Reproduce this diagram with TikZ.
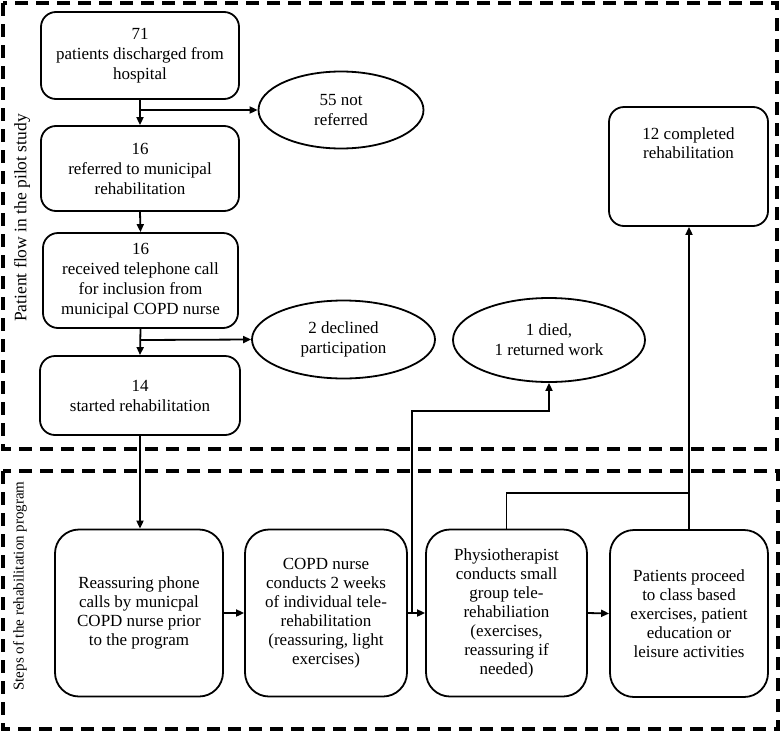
\documentclass[tikz,border=0pt]{standalone}
\usepackage{fontspec}
\setmainfont{Liberation Serif}
\usetikzlibrary{arrows.meta,shapes.geometric}
\begin{document}
\begin{tikzpicture}[x=1pt,y=-1pt,
  rbox/.style={draw,line width=1.8pt,rounded corners=15pt,align=center,font=\fontsize{17}{20}\selectfont,inner sep=2pt},
  bbox/.style={draw,line width=1.8pt,rounded corners=24pt,align=center,font=\fontsize{17}{19}\selectfont,inner sep=2pt,minimum height=167pt},
  ell/.style={draw,ellipse,line width=1.8pt,align=center,font=\fontsize{17}{20}\selectfont,inner sep=0pt},
  frame/.style={line width=3.2pt,dash pattern=on 13pt off 8pt},
  arr/.style={line width=1.8pt,-{Triangle[length=8pt,width=7pt]}},
  ln/.style={line width=1.8pt},
  vlab/.style={rotate=90,font=\fontsize{17.5}{18}\selectfont}]
\useasboundingbox (0,0) rectangle (781,731);
% frames
\draw[frame] (3,3) rectangle (777,449);
\draw[frame] (3,471) rectangle (778,729);
\node[vlab] (lab1) at (22,218) {Patient flow in the pilot study};
\node[vlab,font=\fontsize{15}{18}\selectfont] (lab2) at (20,586) {Steps of the rehabilitation program};
% top boxes
\node[rbox,minimum width=198pt,minimum height=87pt] (b1) at (140,55.5) {71\\patients discharged from\\hospital};
\node[rbox,minimum width=198pt,minimum height=85pt] (b2) at (140,168.5) {16\\referred to municipal\\rehabilitation};
\node[rbox,minimum width=195pt,minimum height=95pt] (b3) at (140.5,280.5) {16\\received telephone call\\for inclusion from\\municipal COPD nurse};
\node[rbox,minimum width=200pt,minimum height=79pt] (b4) at (140,395.5) {14\\started rehabilitation};
% ellipses
\node[ell,minimum width=165pt,minimum height=77pt] (e1) at (341,110) {55 not\\referred};
\node[ell,minimum width=183pt,minimum height=78pt] (e2) at (343.5,339.5) {2 declined\\participation};
\node[ell,minimum width=192pt,minimum height=84pt] (e3) at (549,340) {1 died,\\1 returned work};
% completed
\node[rbox,minimum width=159pt,minimum height=119pt] (done) at (688.5,166.5) {};
\node[anchor=north,align=center,font=\fontsize{17}{19}\selectfont,inner sep=0pt] (donetext) at ([yshift=-21pt]done.north) {12 completed\\rehabilitation};
% bottom boxes
\node[bbox,minimum width=168pt] (bA) at (139,613) {Reassuring phone\\calls by municpal\\COPD nurse prior\\to the program};
\node[bbox,minimum width=162pt] (bB) at (326,613) {COPD nurse\\conducts 2 weeks\\of individual tele-\\rehabilitation\\(reassuring, light\\exercises)};
\node[bbox,minimum width=161pt] (bC) at (506.5,613) {Physiotherapist\\conducts small\\group tele-\\rehabiliation\\(exercises,\\reassuring if\\needed)};
\node[bbox,minimum width=158pt] (bD) at (689,613.5) {Patients proceed\\to class based\\exercises, patient\\education or\\leisure activities};
% connectors top
\draw[arr] (b1.south) -- (b2.north);
\coordinate (j1) at (141,110);
\draw[arr] (j1) -- (e1.west);
\draw[arr] (b2.south) -- (b3.north);
\draw[arr] (b3.south) -- (b4.north);
\coordinate (j2) at (141,340);
\draw[arr] (j2) -- (e2.west);
\draw[arr] (b4.south) -- (b4.south |- bA.north);
% connectors bottom
\draw[arr] (bA.east) -- (bB.west);
\draw[arr] (bB.east) -- (bC.west);
\draw[arr] (bC.east) -- (bD.west);
\coordinate (j3) at (412,613);
\coordinate (j4) at (412,411);
\draw[arr] (j3) -- (j4) -| (e3.south);
\coordinate (j5) at (689,493);
\draw[ln] (bC.north) |- (j5);
\draw[arr] (bD.north) -- (bD.north |- done.south);
\end{tikzpicture}
\end{document}
